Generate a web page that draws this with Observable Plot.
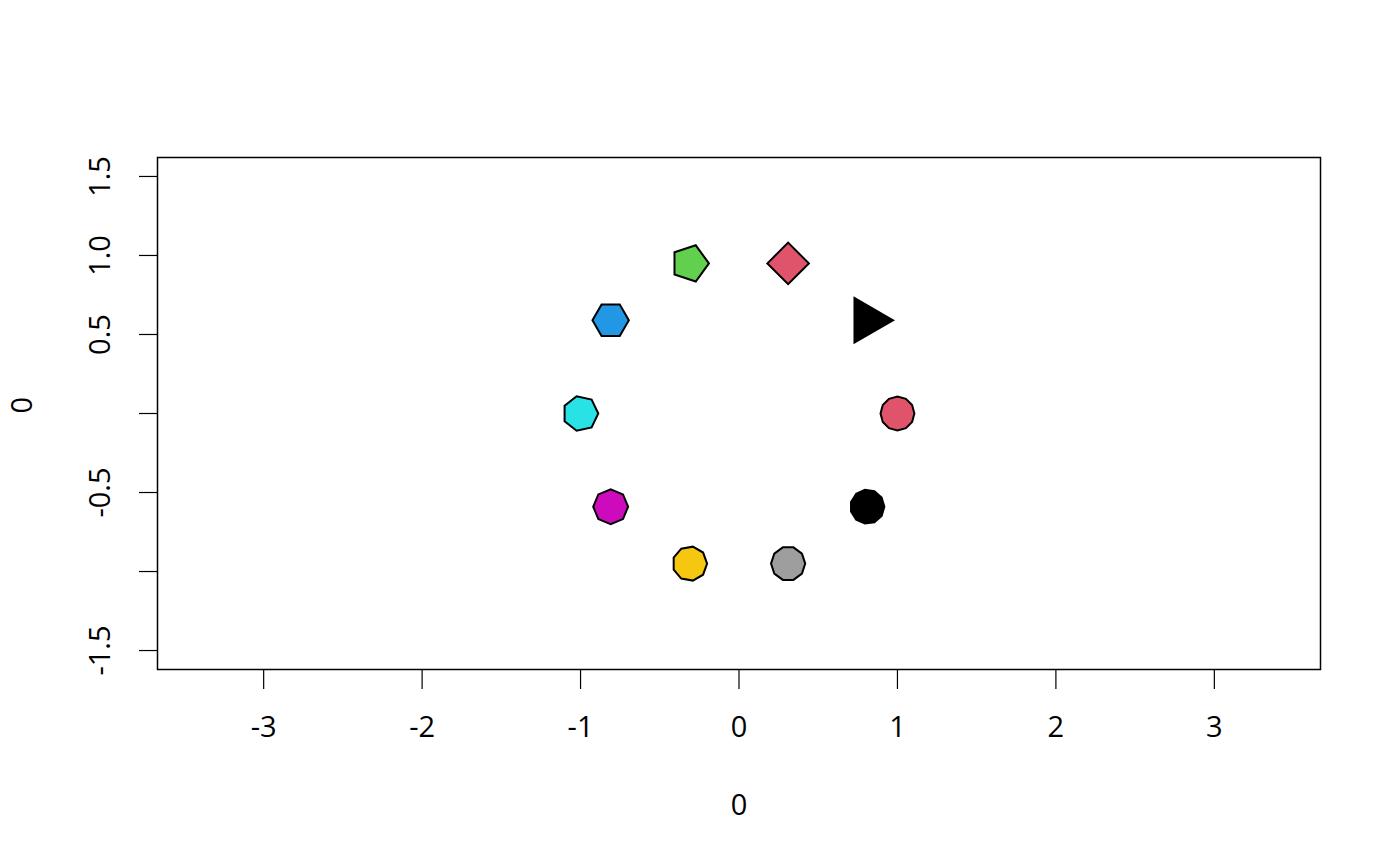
<!DOCTYPE html>
<html>
<head>
<meta charset="utf-8">
<script src="https://cdn.jsdelivr.net/npm/d3@7"></script>
<script src="https://cdn.jsdelivr.net/npm/@observablehq/plot@0.6"></script>
<style>
  html, body { margin: 0; padding: 0; background: #fff; }
  svg { display: block; }
</style>
</head>
<body>
<div id="chart"></div>
<script>
// Data
const px = [1.00, 0.81, 0.31, -0.31, -0.81, -1.00, -0.81, -0.31, 0.31, 0.81];
const py = [0.00, 0.59, 0.95, 0.95, 0.59, 0.00, -0.59, -0.95, -0.95, -0.59];
const sides = [12, 3, 4, 5, 6, 7, 8, 9, 10, 11];
const colIndex = [10, 1, 2, 3, 4, 5, 6, 7, 8, 9];
const xTicks = [-3, -2, -1, 0, 1, 2, 3];
const yTicks = [-1.5, -1.0, -0.5, 0, 0.5, 1.0, 1.5];
const yTickLabels = ["-1.5", "", "-0.5", "", "0.5", "1.0", "1.5"];
const xLabel = "0";
const yLabel = "0";

// R default palette (recycled)
const palette = ["#000000", "#DF536B", "#61D04F", "#2297E6", "#28E2E5", "#CD0BBC", "#F5C710", "#9E9E9E", "#000000", "#DF536B"];

const data = px.map((x, i) => ({x, y: py[i], n: "n" + sides[i], col: colIndex[i]}));

// Regular polygon symbols of equal area, first vertex pointing right
function polygonSymbol(n) {
  return {
    draw(context, size) {
      const r = Math.sqrt(2 * size / (n * Math.sin(2 * Math.PI / n)));
      for (let k = 0; k < n; k++) {
        const a = 2 * Math.PI * k / n;
        const vx = r * Math.cos(a), vy = -r * Math.sin(a);
        if (k === 0) context.moveTo(vx, vy); else context.lineTo(vx, vy);
      }
      context.closePath();
    }
  };
}
const symDomain = sides.map(n => "n" + n);
const symRange = sides.map(n => polygonSymbol(n));

const FS = 29;
const FONT = "Open Sans";

const chart = Plot.plot({
  width: 1400,
  height: 866,
  marginLeft: 157,
  marginRight: 80,
  marginTop: 157,
  marginBottom: 197,
  style: {fontFamily: FONT, fontSize: FS + "px", background: "#fff", color: "#000"},
  x: {domain: [-3.67, 3.67], axis: null},
  y: {domain: [-1.62, 1.62], axis: null},
  symbol: {domain: symDomain, range: symRange},
  color: {domain: [1, 2, 3, 4, 5, 6, 7, 8, 9, 10], range: palette, type: "ordinal"},
  marks: [
    Plot.frame({stroke: "#000", strokeWidth: 1.5}),
    Plot.axisX({ticks: xTicks, tickSize: 20, tickPadding: 27, tickFormat: d => String(d), fontSize: FS, strokeWidth: 1.2, label: null}),
    Plot.axisY({ticks: yTicks, tickSize: 18, tickFormat: () => "", strokeWidth: 1.2, label: null}),
    Plot.axisY({ticks: yTicks, tickSize: 0, tickPadding: 57, tickFormat: d => yTickLabels[yTicks.indexOf(d)], rotate: -90, textAnchor: "middle", fontSize: FS, label: null}),
    Plot.text([xLabel], {frameAnchor: "bottom", text: d => d, dy: 136, lineAnchor: "middle", fontSize: FS}),
    Plot.text([yLabel], {frameAnchor: "left", text: d => d, dx: -135, rotate: -90, lineAnchor: "middle", fontSize: FS}),
    Plot.dot(data, {x: "x", y: "y", symbol: "n", fill: "col", stroke: "#000", strokeWidth: 2, r: Math.sqrt(860 / Math.PI)})
  ]
});
document.getElementById("chart").appendChild(chart);
</script>
</body>
</html>
